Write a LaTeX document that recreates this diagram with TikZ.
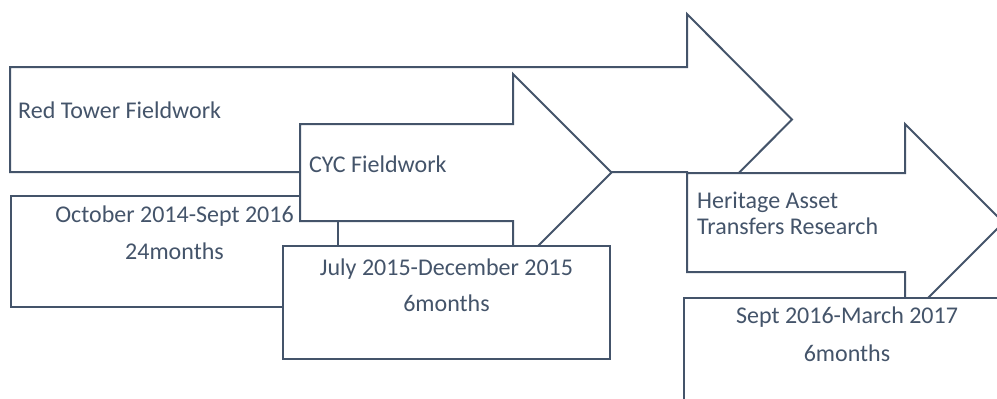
\documentclass[tikz,border=0pt]{standalone}
\usepackage{fontspec}
\setmainfont{Carlito}
\usetikzlibrary{positioning}
\definecolor{slate}{HTML}{44546A}

\begin{document}
\begin{tikzpicture}[
            x = 1pt, y = -1pt,
            band/.style = {draw=slate, fill=white, line width=2pt, line join=miter},
            box/.style = {band, rectangle, inner sep=0pt, anchor=north west},
            lbl/.style = {text=slate, inner sep=0pt, font=\fontsize{24}{28}\selectfont}]

        \useasboundingbox (0,0) rectangle (997,399);
        \clip (0,0) rectangle (997,399);

        % Red Tower
        \draw [band] (10,67) -- (687,67) -- (687,14) -- (792,119.5)
            -- (687,225) -- (687,172) -- (10,172) -- cycle;
        \node [lbl, anchor=base west] (red) at (18,118) {Red Tower Fieldwork};
        \node [box, minimum width=327pt, minimum height=111pt] (red-box) at (10,195) {};
        \node [lbl, anchor=base] (red-when) at ([yshift=-27pt]red-box.north) {October 2014-Sept 2016};
        \node [lbl, anchor=base] (red-len) at ([yshift=-37pt]red-when.base) {24months};

        % CYC
        \draw [band] (300,124) -- (513,124) -- (513,74) -- (611.5,172.5)
            -- (513,271) -- (513,221) -- (300,221) -- cycle;
        \node [lbl, anchor=base west] (cyc) at (309,172) {CYC Fieldwork};
        \node [box, minimum width=327pt, minimum height=113pt] (cyc-box) at (282,245) {};
        \node [lbl, anchor=base] (cyc-when) at ([yshift=-30pt]cyc-box.north) {July 2015-December 2015};
        \node [lbl, anchor=base] (cyc-len) at ([yshift=-36pt]cyc-when.base) {6months};

        % Heritage
        \draw [band] (687,173) -- (905,173) -- (905,124) -- (1003.5,222.5)
            -- (905,321) -- (905,272) -- (687,272) -- cycle;
        \node [lbl, anchor=base west] (her) at (697,208) {Heritage Asset};
        \node [lbl, anchor=base west] (her-2) at ([yshift=-26pt]her.base west) {Transfers Research};
        \node [box, minimum width=326pt, minimum height=111pt] (her-box) at (683,297) {};
        \node [lbl, anchor=base] (her-when) at ([yshift=-26pt]her-box.north) {Sept 2016-March 2017};
        \node [lbl, anchor=base] (her-len) at ([yshift=-38pt]her-when.base) {6months};
    \end{tikzpicture}
\end{document}
